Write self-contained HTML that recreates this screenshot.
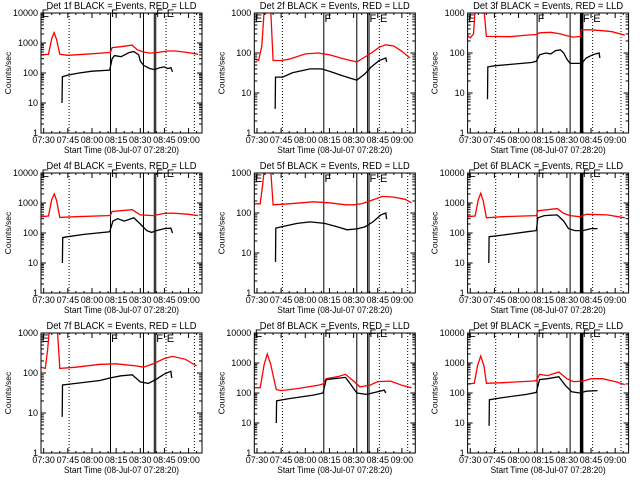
<!DOCTYPE html>
<html><head><meta charset="utf-8"><style>
html,body{margin:0;padding:0;background:#fff;}
svg{display:block;}
text{font-family:"Liberation Sans",sans-serif;fill:#000;}
</style></head><body>
<svg id="fig" width="640" height="480" viewBox="0 0 640 480" xmlns="http://www.w3.org/2000/svg"></svg>
<script>
// time in minutes after 07:30; axis domain starts 07:28:20
const tMin = -1.667, tMax = 98.333;
const xTickTimes = [0, 15, 30, 45, 60, 75, 90];
const xTickLabels = ["07:30","07:45","08:00","08:15","08:30","08:45","09:00"];
const solidLines = [41.5, 62, 68.7, 69.6];
const dottedLines = [15.8, 76, 93.6];
const markerTimes = [-1.3, 41.9, 69.9, 76.4];
const markerLetters = ["E","F","F","E"];
const panelTitles = ["Det 1f","Det 2f","Det 3f","Det 4f","Det 5f","Det 6f","Det 7f","Det 8f","Det 9f"];
const panelDecades = [4,3,3,4,3,4,3,4,4];

const red1T=[-1.7,3,5,6.5,8,10,15,25,40,41.5,42.5,48,55,58,62,66,70,77,82,90,96];
const red1V=[400,420,1400,2200,1300,420,390,420,480,490,700,750,850,600,500,460,480,540,540,480,420];
const blk1T=[11.4,11.6,15,22,30,41,42.5,44,48,53,56,59,60,62,66,69,72,75,77,79,80];
const blk1V=[10,75,85,100,115,125,300,380,350,480,520,400,250,180,140,130,150,160,140,150,110];

const red2T=[-1.7,1,3,4.5,8.5,10,15,20,30,38,45,52,58,62,66,71,76,80,85,90,95];
const red2V=[72,65,150,1200,1200,65,65,70,95,100,90,75,65,60,75,100,140,160,150,110,75];
const blk2T=[11.3,11.5,16,22,33,40,45,52,57,62,67,71,76,80,80.5];
const blk2V=[4,25,25,32,40,40,35,28,24,21,30,45,65,75,60];

const red3T=[-1.7,0,2,3,8.5,10,25,35,41,43,50,56,60,64,68.5,69,75,82,88,96];
const red3V=[270,240,300,1200,1200,260,255,280,290,320,330,300,270,250,260,380,380,360,340,280];
const blk3T=[10.7,10.9,15,25,38,41,43,47,50,53,56,58,60,62,68.5,69,70,72,76,80,80.5];
const blk3V=[7,45,48,52,58,62,90,100,95,115,120,100,70,55,55,40,60,75,90,100,75];

const red4T=[-1.7,3,5,6.6,8,10,20,40,41.5,42.5,55,60,68,75,80,90,96];
const red4V=[350,370,1300,2000,1200,330,350,380,390,520,600,400,380,450,460,420,380];
const blk4T=[11.6,11.8,15,25,41,43,46,50,56,60,64,67,70,75,79,80];
const blk4V=[10,70,75,90,110,250,300,250,320,200,120,105,120,140,145,100];

const red5T=[-1.7,2,3.5,4.5,8.5,10,20,35,45,55,60,65,70,78,85,92,96];
const red5V=[170,170,500,1200,1200,160,170,190,180,160,160,170,200,260,250,220,180];
const blk5T=[11.5,11.7,15,25,33,42,50,56,62,67,72,77,80,80.5];
const blk5V=[6,42,45,55,60,55,45,38,40,45,60,90,100,70];

const red6T=[-1.7,3,5,6.5,8,10,20,41,42,48,54,58,62,68,72,85,96];
const red6V=[350,370,1300,2100,1200,320,350,380,550,600,650,450,380,350,420,400,320];
const blk6T=[11.5,11.7,20,35,41,42,46,54,58,61,65,70,75,79];
const blk6V=[10,75,85,110,120,320,380,400,250,140,120,120,140,140];

const red7T=[-1.7,1,2.5,3.5,8.5,10,20,35,45,58,62,68,75,80,88,95];
const red7V=[140,130,400,1200,1200,130,140,165,170,150,140,170,230,260,220,150];
const blk7T=[11.5,11.7,20,35,41,48,55,60,65,70,75,79,79.5];
const blk7V=[8,50,55,65,75,85,90,60,55,70,95,110,75];

const red8T=[-1.7,2,4.5,6.4,8.5,12,15,25,38,41,43,50,55,60,64,70,75,83,90,96];
const red8V=[150,150,900,2000,900,130,120,140,180,200,300,350,420,250,160,180,240,250,180,150];
const blk8T=[12,12.2,20,35,41,43,55,58,62,68,75,79,80];
const blk8V=[10,55,65,85,100,280,330,200,100,90,110,125,100];

const red9T=[-1.7,2.5,4.5,6.5,8.5,10,20,38,41,43,48,55,60,64,70,75,82,90,96];
const red9V=[200,210,800,1700,800,210,220,250,260,420,380,500,300,240,250,300,300,240,190];
const blk9T=[11.7,11.9,20,35,41,43,48,55,59,63,68,72,79];
const blk9V=[8,60,70,90,105,280,300,350,180,110,100,115,120];

const redT=[red1T,red2T,red3T,red4T,red5T,red6T,red7T,red8T,red9T];
const redV=[red1V,red2V,red3V,red4V,red5V,red6V,red7V,red8V,red9V];
const blkT=[blk1T,blk2T,blk3T,blk4T,blk5T,blk6T,blk7T,blk8T,blk9T];
const blkV=[blk1V,blk2V,blk3V,blk4V,blk5V,blk6V,blk7V,blk8V,blk9V];

const NS="http://www.w3.org/2000/svg";
const svg=document.getElementById('fig');
function mk(tag,attrs,parent){const e=document.createElementNS(NS,tag);for(const k in attrs)e.setAttribute(k,attrs[k]);(parent||svg).appendChild(e);return e;}

for(let p=0;p<9;p++){
  const c=p%3,r=Math.floor(p/3);
  const L=41+c*213.3, T=13+r*160, W=161, H=120, B=T+H;
  const dec=panelDecades[p];
  const xs=t=>L+(t-tMin)/(tMax-tMin)*W;
  const ys=v=>B-Math.log10(Math.max(v,1))/dec*H;
  const g=mk('g',{});
  
  
  const clipId='clip'+p;
  const cp=mk('clipPath',{id:clipId},g);mk('rect',{x:L,y:T,width:W,height:H},cp);

  const title=mk('text',{x:L+W/2,y:T-4,'text-anchor':'middle','font-size':'10',textLength:'150',lengthAdjust:'spacingAndGlyphs'},g);
  title.textContent=panelTitles[p]+' BLACK = Events, RED = LLD';
  
  

  // vertical event lines
  dottedLines.forEach(t=>{const l=mk('line',{x1:xs(t),x2:xs(t),y1:T,y2:B,stroke:'#000','stroke-width':'1','stroke-dasharray':'1,2'},g);
    });
  solidLines.forEach((t,i)=>{const w=(c===2&&i>=2)?2:1;const l=mk('line',{x1:xs(t),x2:xs(t),y1:T,y2:B,stroke:'#000','stroke-width':w},g);
    });
  markerTimes.forEach((t,i)=>{const yy=dec===3?T+9:T+4;const m=mk('text',{x:xs(t),y:yy,'font-size':'11'},g);m.textContent=markerLetters[i];
    });

  // series
  const sg=mk('g',{'clip-path':'url(#'+clipId+')'},g);
  const pts=(TT,VV)=>TT.map((t,i)=>xs(t).toFixed(1)+','+ys(VV[i]).toFixed(1)).join(' ');
  const rl=mk('polyline',{points:pts(redT[p],redV[p]),fill:'none',stroke:'#ff0000','stroke-width':'1.3'},sg);
  
  const bl=mk('polyline',{points:pts(blkT[p],blkV[p]),fill:'none',stroke:'#000','stroke-width':'1.3'},sg);
  

  // box
  const box=mk('rect',{x:L,y:T,width:W,height:H,fill:'none',stroke:'#000','stroke-width':'1'},g);
  

  // y ticks
  for(let d=0;d<=dec;d++){
    const v=Math.pow(10,d),y=ys(v);
    mk('line',{x1:L,x2:L+5,y1:y,y2:y,stroke:'#000'},g);mk('line',{x1:L+W-5,x2:L+W,y1:y,y2:y,stroke:'#000'},g);
    const lb=mk('text',{x:L-3,y:y+3,'text-anchor':'end','font-size':'9'},g);lb.textContent=String(v);
    
    if(d<dec)for(let m=2;m<=9;m++){const ym=ys(v*m);mk('line',{x1:L,x2:L+3,y1:ym,y2:ym,stroke:'#000'},g);mk('line',{x1:L+W-3,x2:L+W,y1:ym,y2:ym,stroke:'#000'},g);}
  }
  // x ticks
  xTickTimes.forEach((t,i)=>{const x=xs(t);
    mk('line',{x1:x,x2:x,y1:B,y2:B-5,stroke:'#000'},g);mk('line',{x1:x,x2:x,y1:T,y2:T+5,stroke:'#000'},g);
    const lb=mk('text',{x:x,y:B+10,'text-anchor':'middle','font-size':'9'},g);lb.textContent=xTickLabels[i];
    });
  for(let t=-0;t<=95;t+=5){if(t%15===0)continue;const x=xs(t);mk('line',{x1:x,x2:x,y1:B,y2:B-2,stroke:'#000'},g);mk('line',{x1:x,x2:x,y1:T,y2:T+2,stroke:'#000'},g);}

  const xl=mk('text',{x:L+W/2,y:B+20,'text-anchor':'middle','font-size':'9.5',textLength:'115',lengthAdjust:'spacingAndGlyphs'},g);
  xl.textContent='Start Time (08-Jul-07 07:28:20)';
  
  const yl=mk('text',{x:0,y:0,'text-anchor':'middle','font-size':'8.5',transform:'translate('+(L-30)+','+(T+60)+') rotate(-90)'},g);
  yl.textContent='Counts/sec';
  
}
</script>
</body></html>
